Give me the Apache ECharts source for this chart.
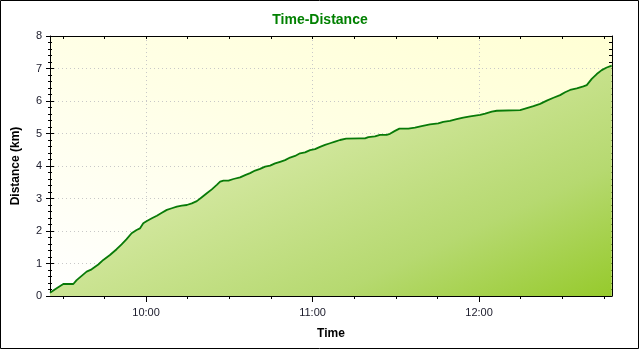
<!DOCTYPE html>
<html><head><meta charset="utf-8">
<script src="https://cdn.jsdelivr.net/npm/echarts@6/dist/echarts.min.js"></script>
<style>html,body{margin:0;padding:0;background:#fff}#c{width:640px;height:350px}</style>
</head><body><div id="c"></div>
<script>
// minutes after 09:00
const baseMinute = 540;
const elapsedMin = [25.4,26.0,27.8,30.2,33.8,35.0,36.8,38.6,40.4,42.8,44.6,47.0,49.4,51.2,53.0,54.8,56.6,57.8,59.0,60.3,62.1,63.9,65.7,67.5,69.3,71.1,72.9,74.7,76.5,78.3,80.1,81.9,83.7,85.5,86.7,87.9,89.7,91.5,93.9,95.7,97.5,99.3,101.1,102.9,104.7,106.5,108.3,110.1,111.9,113.7,115.5,117.3,119.1,120.9,122.7,124.5,126.3,128.1,129.9,132.1,137.1,138.9,140.1,142.5,144.3,146.7,147.9,149.7,151.3,154.5,156.9,159.3,162.3,165.3,167.1,169.5,171.9,174.3,176.8,180.4,182.2,184.6,186.4,194.8,197.2,199.6,202.0,204.4,206.8,209.2,211.0,212.8,215.2,217.6,218.8,220.6,222.4,224.2,226.0,227.8];
const distanceKm = [0.10,0.16,0.24,0.37,0.37,0.49,0.62,0.75,0.82,0.97,1.11,1.26,1.44,1.59,1.75,1.93,2.03,2.08,2.24,2.31,2.39,2.47,2.56,2.65,2.70,2.75,2.78,2.80,2.85,2.92,3.04,3.16,3.28,3.42,3.52,3.55,3.55,3.60,3.65,3.72,3.78,3.86,3.91,3.98,4.01,4.08,4.13,4.18,4.26,4.31,4.39,4.42,4.49,4.52,4.59,4.65,4.70,4.75,4.80,4.84,4.85,4.85,4.89,4.91,4.96,4.96,4.99,5.08,5.15,5.15,5.18,5.23,5.28,5.31,5.36,5.39,5.44,5.49,5.53,5.57,5.61,5.67,5.70,5.72,5.78,5.84,5.91,6.01,6.10,6.18,6.27,6.34,6.39,6.45,6.49,6.68,6.83,6.95,7.03,7.09];
const xMinMin = 25.4, xMaxMin = 227.9;
const hourTickLabels = ['10:00','11:00','12:00'];
const hourTicks = [600, 660, 720];
const quarterTicks = [570,585,615,630,645,675,690,705,735,750,765];
const allQuarterTicks = [570,585,600,615,630,645,660,675,690,705,720,735,750,765];

const xMin = baseMinute + xMinMin, xMax = baseMinute + xMaxMin;
const data = elapsedMin.map((m, i) => [baseMinute + m, distanceKm[i]]);
const fmt = v => { const i = hourTicks.indexOf(Math.round(v)); return i >= 0 ? hourTickLabels[i] : ''; };
const black = '#000';
const labelFont = {fontFamily: 'Liberation Sans', fontSize: 11, color: '#1a1a2a'};
const dotted = {show: true, lineStyle: {color: '#c8c8c8', type: [1, 3], width: 1}};

// plot rectangle (for diagonal gradients)
const G = {l: 50, t: 36, r: 612, b: 296};
const gw = G.r - G.l, gh = G.b - G.t;
const k = 2 * gw * gh / (gw * gw + gh * gh);
const dx = gh * k, dy = gw * k;

function xAx(extra) {
  return Object.assign({type: 'value', min: xMin, max: xMax, gridIndex: 0,
    axisLine: {show: false}, axisLabel: {show: false}, splitLine: {show: false}}, extra);
}
function yAx(extra) {
  return Object.assign({type: 'value', min: 0, max: 8, interval: 1, gridIndex: 0,
    axisLine: {show: false}, axisLabel: {show: false}, splitLine: {show: false}}, extra);
}

const chart = echarts.init(document.getElementById('c'));
chart.setOption({
  animation: false,
  backgroundColor: '#fff',
  title: {text: 'Time-Distance', left: 'center', top: 8,
    textStyle: {color: '#008000', fontSize: 14, fontWeight: 'bold', fontFamily: 'Liberation Sans'}},
  grid: {left: G.l, right: 640 - G.r, top: G.t, bottom: 350 - G.b, show: true, borderWidth: 0,
    backgroundColor: new echarts.graphic.LinearGradient(G.l, G.b, G.l + dx, G.b - dy, [
      {offset: 0, color: '#ffffff'}, {offset: 0.5, color: '#ffffe6'}, {offset: 1, color: '#ffffd4'}], true)},
  xAxis: [
    xAx({position: 'bottom', axisLine: {show: true, onZero: false, lineStyle: {color: black}},
      axisTick: {show: true, inside: false, length: 4, customValues: hourTicks, lineStyle: {color: black}},
      axisLabel: Object.assign({show: true, customValues: hourTicks, formatter: fmt, margin: 11}, labelFont),
      splitLine: dotted,
      name: 'Time', nameLocation: 'middle', nameGap: 32,
      nameTextStyle: {fontFamily: 'Liberation Sans', fontSize: 12, fontWeight: 'bold', color: black}}),
    xAx({position: 'bottom', axisTick: {show: true, inside: true, length: 5, customValues: hourTicks, lineStyle: {color: black}}}),
    xAx({position: 'bottom', axisTick: {show: true, inside: false, length: 3, customValues: quarterTicks, lineStyle: {color: black}}}),
    xAx({position: 'top', axisLine: {show: true, onZero: false, lineStyle: {color: black}},
      axisTick: {show: true, inside: true, length: 3, customValues: allQuarterTicks, lineStyle: {color: black}}}),
    xAx({position: 'top', axisTick: {show: true, inside: true, length: 6, customValues: hourTicks, lineStyle: {color: black}}})
  ],
  yAxis: [
    yAx({position: 'left', axisLine: {show: true, onZero: false, lineStyle: {color: black}},
      axisTick: {show: true, inside: false, length: 4, lineStyle: {color: black}},
      minorTick: {show: true, splitNumber: 5, length: 2, lineStyle: {color: black}},
      axisLabel: Object.assign({show: true, margin: 8}, labelFont),
      splitLine: dotted,
      name: 'Distance (km)', nameLocation: 'middle', nameGap: 28,
      nameTextStyle: {fontFamily: 'Liberation Sans', fontSize: 12, fontWeight: 'bold', color: black}}),
    yAx({position: 'left', axisTick: {show: true, inside: true, length: 4, lineStyle: {color: black}},
      minorTick: {show: true, splitNumber: 5, length: 2, lineStyle: {color: black}}}),
    yAx({position: 'right', axisLine: {show: true, onZero: false, lineStyle: {color: black}},
      axisTick: {show: true, inside: true, length: 4, lineStyle: {color: black}},
      minorTick: {show: true, splitNumber: 5, length: 3, lineStyle: {color: black}}})
  ],
  graphic: [{type: 'rect', shape: {x: 0.5, y: 0.5, width: 638, height: 348}, silent: true,
    style: {fill: 'none', stroke: '#000', lineWidth: 1}, z: 100}],
  series: [{
    type: 'line', xAxisIndex: 0, yAxisIndex: 0, data: data, showSymbol: false,
    lineStyle: {color: '#087a08', width: 1.8},
    areaStyle: {opacity: 1, color: new echarts.graphic.LinearGradient(G.l, G.t, G.l + dx, G.t + dy, [
      {offset: 0, color: '#f2f8da'}, {offset: 0.35, color: '#d8eaa8'},
      {offset: 0.75, color: '#b6d970'}, {offset: 1, color: '#96ca2c'}], true)}
  }]
});
</script></body></html>
